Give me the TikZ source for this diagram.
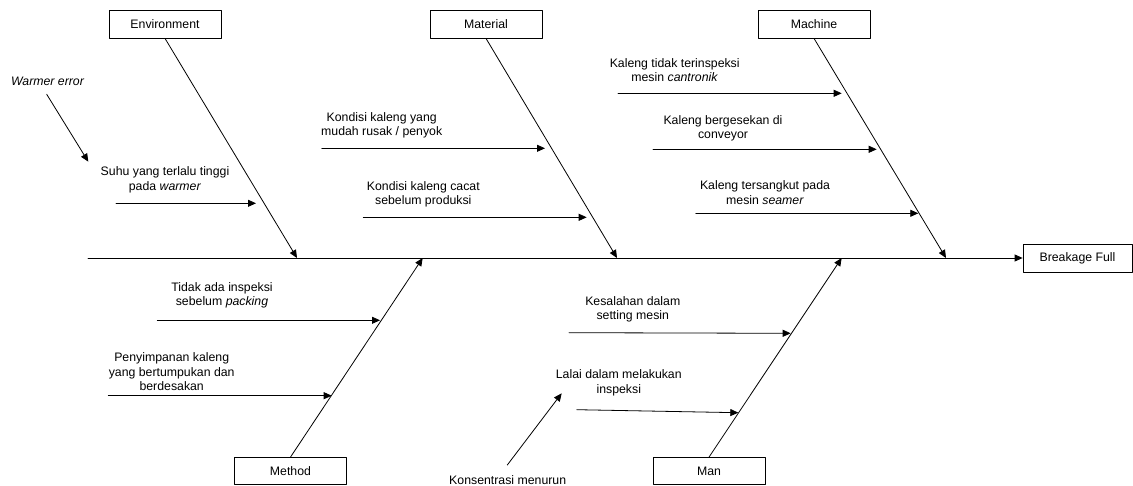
\documentclass[tikz,border=0pt]{standalone}
\usepackage{fontspec}
\setmainfont{Liberation Sans}
\usetikzlibrary{arrows.meta}

\newcommand{\causefont}{\fontsize{12.3}{14.5}\selectfont}

\begin{document}
\begin{tikzpicture}[line cap=round,line join=round,>={Triangle[length=8pt,width=7pt]},x=1pt,y=-1pt,line width=0.8pt,
    box/.style={draw,minimum width=112pt,minimum height=28pt,inner sep=0pt,font=\causefont},
    cause/.style={align=center,inner sep=0pt,font=\causefont}]
  \useasboundingbox (0,0) rectangle (1133,486);
  % category boxes
  \node[box] (environment) at (165,24) {Environment};
  \node[box] (material) at (486,24) {Material};
  \node[box] (machine) at (814,24) {Machine};
  \node[box,minimum height=27pt] (method) at (290.5,471) {Method};
  \node[box,minimum height=27pt] (man) at (709,471) {Man};
  \node[box,minimum width=109pt] (breakage) at (1077.5,258) {Breakage Full};
  % spine and main bones
  \coordinate (tail) at (88,258);
  \coordinate (envhead) at (297,258);
  \coordinate (mathead) at (617,258);
  \coordinate (machead) at (946,258);
  \coordinate (methead) at (422.7,258);
  \coordinate (manhead) at (841.7,258);
  \draw[->] (tail) -- (breakage);
  \draw[->] (environment.south) -- (envhead);
  \draw[->] (material.south) -- (mathead);
  \draw[->] (machine.south) -- (machead);
  \draw[->] (method.north) -- (methead);
  \draw[->] (man.north) -- (manhead);
  % causes
  \node[cause,font=\causefont\itshape] (warmer) at (47.5,81.7) {Warmer error};
  \node[cause] (suhu) at (165,180) {Suhu yang terlalu tinggi\\pada \textit{warmer}};
  \node[cause] (mudah) at (381.7,125.3) {Kondisi kaleng yang\\mudah rusak / penyok};
  \node[cause] (cacat) at (423.3,194.5) {Kondisi kaleng cacat\\sebelum produksi};
  \node[cause] (cantronik) at (674.7,70) {Kaleng tidak terinspeksi\\mesin \textit{cantronik}};
  \node[cause] (gesek) at (723,128.3) {Kaleng bergesekan di\\conveyor};
  \node[cause] (sangkut) at (765,192.5) {Kaleng tersangkut pada\\mesin \textit{seamer}};
  \node[cause] (packing) at (222,295.3) {Tidak ada inspeksi\\sebelum \textit{packing}};
  \node[cause] (simpan) at (171.7,372) {Penyimpanan kaleng\\yang bertumpukan dan\\berdesakan};
  \node[cause] (setting) at (632.8,309.2) {Kesalahan dalam\\setting mesin};
  \node[cause] (lalai) at (618.8,382.7) {Lalai dalam melakukan\\inspeksi};
  \node[cause] (konsentrasi) at (507.7,480) {Konsentrasi menurun};
  \foreach \nm/\xa/\ya/\xb/\yb in {warm/46.7/94.3/88.3/161.7, suhu/116/203.3/256/203.3,
      mudah/321.7/148.3/545/148.3, cacat/363.3/217.3/586.7/217.3,
      cantronik/618/93.3/841.7/93.3, gesek/653/149.3/876.7/149.3,
      sangkut/695.7/213.3/918.3/213.3, packing/157.3/320.3/380/320.3,
      simpan/108.3/395.7/331.7/395.7, setting/569/332.7/790.7/333.3,
      lalai/576.7/409.7/738.3/412.7, konsentrasi/507.3/465/561.7/393.3}
  {
    \coordinate (\nm-s) at (\xa,\ya);
    \coordinate (\nm-e) at (\xb,\yb);
    \draw[->] (\nm-s) -- (\nm-e);
  }
\end{tikzpicture}
\end{document}
